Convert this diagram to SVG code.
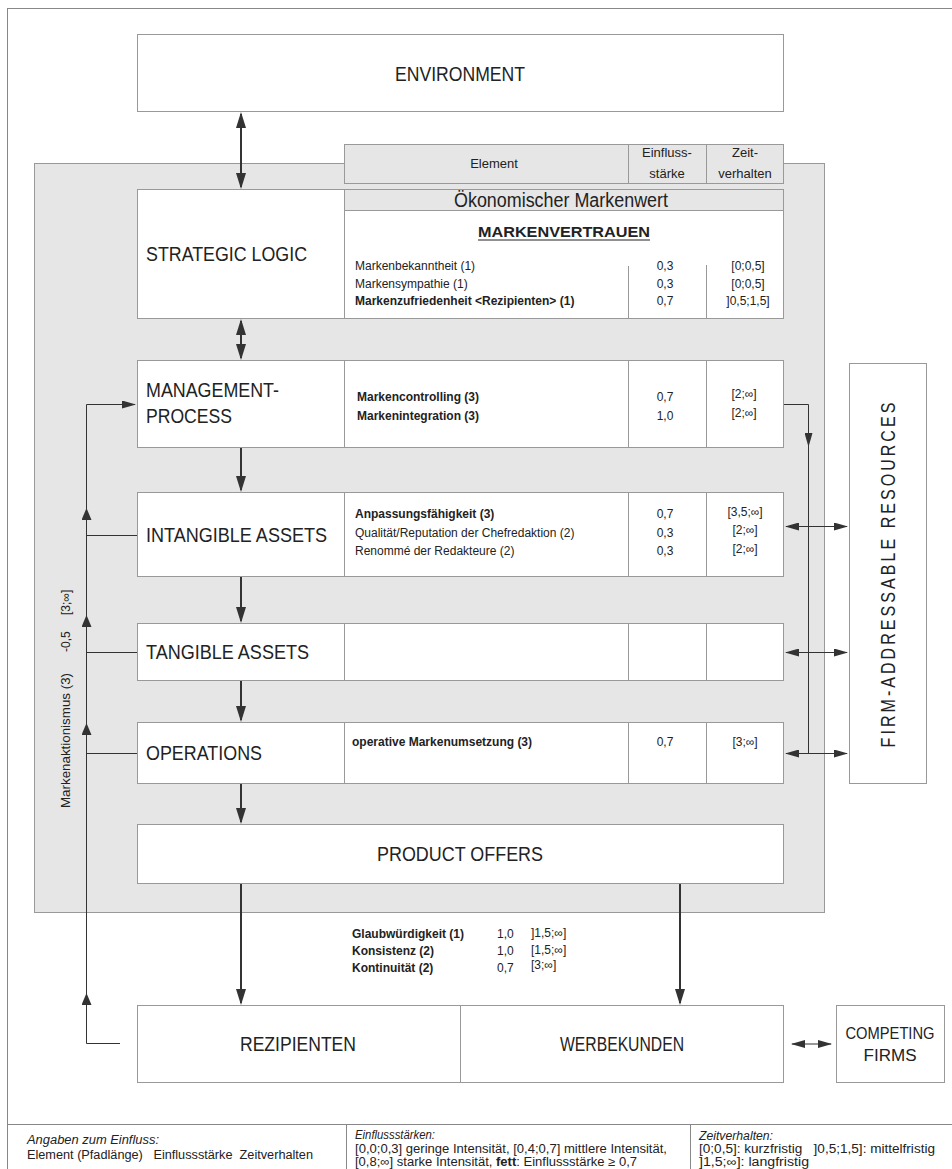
<svg xmlns="http://www.w3.org/2000/svg" width="952" height="1169" viewBox="0 0 952 1169">
  <style>
    .frame { fill: none; stroke: #888; stroke-width: 1; }
    .box { fill: #fff; stroke: #999; stroke-width: 1; }
    .grey { fill: #e6e6e6; stroke: #999; stroke-width: 1; }
    .rule { stroke: #999; stroke-width: 1; fill: none; }
    .lbl { font-family: "Liberation Sans", Arial, sans-serif; font-size: 20px; fill: #222; }
    .hdr { font-family: "Liberation Sans", Arial, sans-serif; font-size: 13px; fill: #222; }
    .cell { font-family: "Liberation Sans", Arial, sans-serif; font-size: 12px; fill: #222; }
    .leg { font-family: "Liberation Sans", Arial, sans-serif; font-size: 12.5px; fill: #222; }
    .small { font-size: 12px; }
    .firms { font-size: 16px; }
    .title { font-size: 15px; }
    .b { font-weight: bold; }
    .i { font-style: italic; }
    .mid { text-anchor: middle; }
    .thick { stroke: #333; stroke-width: 2; fill: none; }
    .thin { stroke: #333; stroke-width: 1; fill: none; }
  </style>
  <defs>
    <marker id="headL" markerUnits="userSpaceOnUse" markerWidth="16" markerHeight="10" refX="14" refY="5" orient="auto-start-reverse">
      <path d="M0,0 L16,5 L0,10 z" fill="#333"/>
    </marker>
    <marker id="headM" markerUnits="userSpaceOnUse" markerWidth="14" markerHeight="8" refX="13" refY="4" orient="auto-start-reverse">
      <path d="M0,0 L14,4 L0,8 z" fill="#333"/>
    </marker>
    <marker id="headS" markerUnits="userSpaceOnUse" markerWidth="12" markerHeight="10" refX="11" refY="5" orient="auto-start-reverse">
      <path d="M0,0 L12,5 L0,10 z" fill="#333"/>
    </marker>
  </defs>

  <!-- page frame and legend rules -->
  <g id="frame">
    <rect class="frame" x="7.5" y="8.5" width="960" height="1170"/>
    <line class="frame" x1="7.5" y1="1124.5" x2="952" y2="1124.5"/>
    <line class="frame" x1="346.5" y1="1124.5" x2="346.5" y2="1169"/>
    <line class="frame" x1="690.5" y1="1124.5" x2="690.5" y2="1169"/>
  </g>

  <!-- firm container -->
  <g id="firm">
    <rect class="grey" x="34.5" y="163.5" width="790" height="749"/>
  </g>

  <!-- column header -->
  <g id="header">
    <rect class="grey" x="344.5" y="144.5" width="439" height="39"/>
    <line class="rule" x1="628.5" y1="144.5" x2="628.5" y2="183.5"/>
    <line class="rule" x1="706.5" y1="144.5" x2="706.5" y2="183.5"/>
    <text class="hdr mid" x="494" y="168">Element</text>
    <text class="hdr mid" x="667" y="157">Einfluss-</text>
    <text class="hdr mid" x="667" y="178">stärke</text>
    <text class="hdr mid" x="745" y="157">Zeit-</text>
    <text class="hdr mid" x="745" y="178">verhalten</text>
  </g>

  <g id="environment">
    <rect class="box" x="137.5" y="34.5" width="646" height="77"/>
    <text class="lbl mid" x="460" y="81" textLength="130" lengthAdjust="spacingAndGlyphs">ENVIRONMENT</text>
  </g>

  <g id="strategic-logic">
    <rect class="box" x="137.5" y="189.5" width="207" height="129"/>
    <text class="lbl" x="146" y="261" textLength="161" lengthAdjust="spacingAndGlyphs">STRATEGIC LOGIC</text>
    <rect class="box" x="344.5" y="189.5" width="439" height="129"/>
    <rect class="grey" x="344.5" y="189.5" width="439" height="21"/>
    <text class="lbl mid" x="561" y="207" textLength="214" lengthAdjust="spacingAndGlyphs">Ökonomischer Markenwert</text>
    <text class="cell title b mid" x="564" y="237" textLength="172" lengthAdjust="spacingAndGlyphs">MARKENVERTRAUEN</text>
    <line x1="478" y1="240" x2="650" y2="240" stroke="#222" stroke-width="1.2"/>
    <line class="rule" x1="628.5" y1="266" x2="628.5" y2="318.5"/>
    <line class="rule" x1="706.5" y1="265" x2="706.5" y2="318.5"/>
    <text class="cell" x="355" y="270">Markenbekanntheit (1)</text>
    <text class="cell" x="355" y="288">Markensympathie (1)</text>
    <text class="cell b" x="355" y="305">Markenzufriedenheit &lt;Rezipienten&gt; (1)</text>
    <text class="cell mid" x="665" y="270">0,3</text>
    <text class="cell mid" x="665" y="288">0,3</text>
    <text class="cell mid" x="665" y="305">0,7</text>
    <text class="cell mid" x="748" y="270">[0;0,5]</text>
    <text class="cell mid" x="748" y="288">[0;0,5]</text>
    <text class="cell mid" x="748" y="305">]0,5;1,5]</text>
  </g>

  <g id="management-process">
    <rect class="box" x="137.5" y="360.5" width="207" height="87"/>
    <text class="lbl" x="146" y="397" textLength="133" lengthAdjust="spacingAndGlyphs">MANAGEMENT-</text>
    <text class="lbl" x="146" y="423" textLength="86" lengthAdjust="spacingAndGlyphs">PROCESS</text>
    <rect class="box" x="344.5" y="360.5" width="439" height="87"/>
    <line class="rule" x1="628.5" y1="360.5" x2="628.5" y2="447.5"/>
    <line class="rule" x1="706.5" y1="360.5" x2="706.5" y2="447.5"/>
    <text class="cell b" x="357" y="401">Markencontrolling (3)</text>
    <text class="cell b" x="357" y="420">Markenintegration (3)</text>
    <text class="cell mid" x="665" y="401">0,7</text>
    <text class="cell mid" x="665" y="420">1,0</text>
    <text class="cell mid" x="744" y="398">[2;∞]</text>
    <text class="cell mid" x="744" y="417">[2;∞]</text>
  </g>

  <g id="intangible-assets">
    <rect class="box" x="137.5" y="492.5" width="207" height="84"/>
    <text class="lbl" x="146" y="542" textLength="181" lengthAdjust="spacingAndGlyphs">INTANGIBLE ASSETS</text>
    <rect class="box" x="344.5" y="492.5" width="439" height="84"/>
    <line class="rule" x1="628.5" y1="492.5" x2="628.5" y2="576.5"/>
    <line class="rule" x1="706.5" y1="492.5" x2="706.5" y2="576.5"/>
    <text class="cell b" x="355" y="518">Anpassungsfähigkeit (3)</text>
    <text class="cell" x="355" y="537">Qualität/Reputation der Chefredaktion (2)</text>
    <text class="cell" x="355" y="555">Renommé der Redakteure (2)</text>
    <text class="cell mid" x="665" y="518">0,7</text>
    <text class="cell mid" x="665" y="537">0,3</text>
    <text class="cell mid" x="665" y="555">0,3</text>
    <text class="cell mid" x="745" y="516">[3,5;∞]</text>
    <text class="cell mid" x="745" y="534">[2;∞]</text>
    <text class="cell mid" x="745" y="553">[2;∞]</text>
  </g>

  <g id="tangible-assets">
    <rect class="box" x="137.5" y="623.5" width="207" height="57"/>
    <text class="lbl" x="146" y="659" textLength="163" lengthAdjust="spacingAndGlyphs">TANGIBLE ASSETS</text>
    <rect class="box" x="344.5" y="623.5" width="439" height="57"/>
    <line class="rule" x1="628.5" y1="623.5" x2="628.5" y2="680.5"/>
    <line class="rule" x1="706.5" y1="623.5" x2="706.5" y2="680.5"/>
  </g>

  <g id="operations">
    <rect class="box" x="137.5" y="722.5" width="207" height="61"/>
    <text class="lbl" x="146" y="760" textLength="116" lengthAdjust="spacingAndGlyphs">OPERATIONS</text>
    <rect class="box" x="344.5" y="722.5" width="439" height="61"/>
    <line class="rule" x1="628.5" y1="722.5" x2="628.5" y2="783.5"/>
    <line class="rule" x1="706.5" y1="722.5" x2="706.5" y2="783.5"/>
    <text class="cell b" x="352" y="746">operative Markenumsetzung (3)</text>
    <text class="cell mid" x="665" y="746">0,7</text>
    <text class="cell mid" x="745" y="746">[3;∞]</text>
  </g>

  <g id="product-offers">
    <rect class="box" x="137.5" y="824.5" width="646" height="59"/>
    <text class="lbl mid" x="460" y="861" textLength="166" lengthAdjust="spacingAndGlyphs">PRODUCT OFFERS</text>
  </g>

  <g id="offer-attributes">
    <text class="cell b" x="352" y="938">Glaubwürdigkeit (1)</text>
    <text class="cell b" x="352" y="955">Konsistenz (2)</text>
    <text class="cell b" x="352" y="972">Kontinuität (2)</text>
    <text class="cell" x="497" y="938">1,0</text>
    <text class="cell" x="497" y="955">1,0</text>
    <text class="cell" x="497" y="972">0,7</text>
    <text class="cell" x="531" y="937">]1,5;∞]</text>
    <text class="cell" x="531" y="954">[1,5;∞]</text>
    <text class="cell" x="531" y="969">[3;∞]</text>
  </g>

  <g id="markets">
    <rect class="box" x="137.5" y="1005.5" width="646" height="77"/>
    <line class="rule" x1="460.5" y1="1005.5" x2="460.5" y2="1082.5"/>
    <text class="lbl mid" x="298" y="1051" textLength="116" lengthAdjust="spacingAndGlyphs">REZIPIENTEN</text>
    <text class="lbl mid" x="622" y="1051" textLength="124" lengthAdjust="spacingAndGlyphs">WERBEKUNDEN</text>
  </g>

  <g id="competing-firms">
    <rect class="box" x="836.5" y="1005.5" width="108" height="77"/>
    <text class="lbl firms mid" x="890" y="1039" textLength="89" lengthAdjust="spacingAndGlyphs">COMPETING</text>
    <text class="lbl firms mid" x="890" y="1061" textLength="53" lengthAdjust="spacingAndGlyphs">FIRMS</text>
  </g>

  <g id="firm-addressable-resources">
    <rect class="box" x="849.5" y="363.5" width="77" height="420"/>
    <text class="lbl mid" transform="translate(895,575) rotate(-90) scale(0.8,1)" x="0" y="0" textLength="431" lengthAdjust="spacing">FIRM-ADDRESSABLE RESOURCES</text>
  </g>

  <g id="feedback-label">
    <text class="cell" transform="translate(70,808) rotate(-90)" textLength="135" lengthAdjust="spacingAndGlyphs">Markenaktionismus (3)</text>
    <text class="cell" transform="translate(70,652) rotate(-90)">-0,5</text>
    <text class="cell" transform="translate(70,615) rotate(-90)">[3;∞]</text>
  </g>

  <g id="connectors">
    <!-- main flow -->
    <line class="thick" x1="241" y1="114" x2="241" y2="187" marker-start="url(#headL)" marker-end="url(#headL)"/>
    <line class="thick" x1="241" y1="321" x2="241" y2="358" marker-start="url(#headL)" marker-end="url(#headL)"/>
    <line class="thick" x1="241" y1="448" x2="241" y2="490" marker-end="url(#headL)"/>
    <line class="thick" x1="241" y1="577" x2="241" y2="621" marker-end="url(#headL)"/>
    <line class="thick" x1="241" y1="681" x2="241" y2="720" marker-end="url(#headL)"/>
    <line class="thick" x1="241" y1="784" x2="241" y2="822" marker-end="url(#headL)"/>
    <line class="thick" x1="241" y1="884" x2="241" y2="1003" marker-end="url(#headL)"/>
    <line class="thick" x1="680" y1="884" x2="680" y2="1003" marker-end="url(#headL)"/>
    <line class="thin" x1="792" y1="1044" x2="831" y2="1044" marker-start="url(#headM)" marker-end="url(#headM)"/>

    <!-- resource links -->
    <path class="thin" d="M784,404.5 H808.5 V446" marker-end="url(#headM)"/>
    <line class="thin" x1="808.5" y1="446" x2="808.5" y2="753.5"/>
    <line class="thin" x1="786" y1="526.5" x2="847" y2="526.5" marker-start="url(#headM)" marker-end="url(#headM)"/>
    <line class="thin" x1="786" y1="652.5" x2="847" y2="652.5" marker-start="url(#headM)" marker-end="url(#headM)"/>
    <line class="thin" x1="786" y1="753.5" x2="847" y2="753.5" marker-start="url(#headM)" marker-end="url(#headM)"/>

    <!-- feedback loop -->
    <path class="thin" d="M120,1043.5 H86.5 V404.5 H135" marker-end="url(#headM)"/>
    <line class="thin" x1="137" y1="535.5" x2="86.5" y2="535.5"/>
    <line class="thin" x1="137" y1="652.5" x2="86.5" y2="652.5"/>
    <line class="thin" x1="137" y1="753.5" x2="86.5" y2="753.5"/>
    <line class="thin" x1="86.5" y1="522" x2="86.5" y2="509" marker-end="url(#headS)"/>
    <line class="thin" x1="86.5" y1="629" x2="86.5" y2="616" marker-end="url(#headS)"/>
    <line class="thin" x1="86.5" y1="737" x2="86.5" y2="724" marker-end="url(#headS)"/>
    <line class="thin" x1="86.5" y1="1007" x2="86.5" y2="994" marker-end="url(#headS)"/>
  </g>

  <g id="legend">
    <text class="leg i" x="27" y="1144" textLength="132" lengthAdjust="spacingAndGlyphs">Angaben zum Einfluss:</text>
    <text class="leg" x="27" y="1159" textLength="286" lengthAdjust="spacingAndGlyphs" xml:space="preserve">Element (Pfadlänge)   Einflussstärke  Zeitverhalten</text>
    <text class="leg i" x="355" y="1139" textLength="80" lengthAdjust="spacingAndGlyphs">Einflussstärken:</text>
    <text class="leg" x="355" y="1153" textLength="312" lengthAdjust="spacingAndGlyphs">[0,0;0,3] geringe Intensität, [0,4;0,7] mittlere Intensität,</text>
    <text class="leg" x="355" y="1166" textLength="282" lengthAdjust="spacingAndGlyphs">[0,8;∞] starke Intensität, <tspan class="b">fett</tspan>: Einflussstärke ≥ 0,7</text>
    <text class="leg small i" x="699" y="1140" textLength="74" lengthAdjust="spacingAndGlyphs">Zeitverhalten:</text>
    <text class="leg small" x="699" y="1153" textLength="236" lengthAdjust="spacingAndGlyphs" xml:space="preserve">[0;0,5]: kurzfristig   ]0,5;1,5]: mittelfristig</text>
    <text class="leg small" x="699" y="1166" textLength="110" lengthAdjust="spacingAndGlyphs">]1,5;∞]: langfristig</text>
  </g>
</svg>
